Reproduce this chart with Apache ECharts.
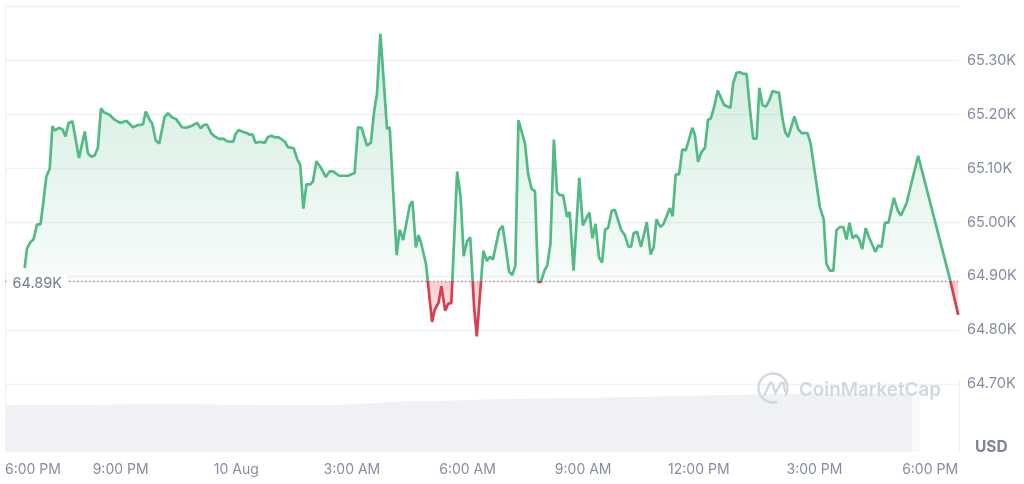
<!DOCTYPE html>
<html>
<head>
<meta charset="utf-8">
<style>html,body{margin:0;padding:0;background:#fff}#c{width:1024px;height:484px}</style>
<script src="https://cdn.jsdelivr.net/npm/echarts@6/dist/echarts.min.js"></script>
</head>
<body>
<div id="c"></div>
<script>
// Hours since 6:00 PM on 9 Aug
const hours = [0.51,0.57,0.66,0.74,0.83,0.92,0.98,1.07,1.16,1.23,1.30,1.40,1.49,1.57,1.65,1.75,1.92,2.07,2.15,2.24,2.33,2.41,2.49,2.56,2.71,2.84,2.99,3.15,3.32,3.45,3.58,3.65,3.75,3.82,3.91,4.00,4.14,4.23,4.34,4.44,4.59,4.70,4.83,4.98,5.08,5.15,5.24,5.35,5.44,5.57,5.66,5.76,5.92,5.98,6.06,6.18,6.28,6.35,6.42,6.50,6.62,6.74,6.82,6.91,7.02,7.11,7.26,7.34,7.49,7.59,7.66,7.74,7.82,7.92,7.99,8.08,8.21,8.32,8.42,8.51,8.67,
8.90,9.07,9.16,9.25,9.39,9.49,9.58,9.65,9.74,9.83,9.91,9.98,10.16,10.24,10.33,10.50,10.57,10.66,10.73,10.80,10.92,11.08,11.15,11.25,11.32,11.42,11.50,11.58,11.73,11.82,11.90,11.99,12.07,12.17,12.24,12.41,12.50,12.58,12.66,12.82,12.91,12.99,13.08,13.16,13.24,13.32,13.49,13.57,13.66,13.75,13.83,13.90,14.00,14.07,14.15,14.24,14.32,14.39,14.48,14.58,14.65,14.75,14.90,14.99,15.16,15.24,15.32,15.41,15.49,15.57,15.65,15.74,15.82,15.99,16.08,16.17,16.24,16.31,16.40,16.50,16.65,16.75,16.83,16.90,17.00,17.08,17.25,17.32,17.40,17.49,
17.57,17.66,17.74,17.83,17.90,17.98,18.07,18.16,18.24,18.31,18.40,18.49,18.66,18.82,18.89,18.98,19.07,19.15,19.24,19.33,19.41,19.50,19.57,19.65,19.74,19.83,19.91,20.00,20.08,20.17,20.24,20.32,20.48,20.58,20.67,20.82,20.90,21.14,21.24,21.31,21.40,21.49,21.57,21.66,21.75,21.83,21.91,21.99,22.08,22.15,22.24,22.33,22.41,22.58,22.66,22.74,22.83,22.92,23.06,23.16,23.24,23.39,23.48,23.69,24.52,24.73];
// Price in USD
const prices = [64915,64951,64963,64968,64996,64996,65028,65084,65099,65178,65170,65175,65172,65159,65184,65187,65119,65168,65128,65121,65124,65138,65211,65204,65199,65190,65184,65188,65176,65180,65181,65205,65190,65183,65152,65146,65195,65202,65194,65191,65176,65175,65178,65184,65174,65180,65181,65165,65159,65154,65155,65150,65149,65163,65171,65167,65165,65162,65163,65147,65149,65147,65158,65160,65157,65157,65149,65139,65137,65115,65106,65025,65070,65070,65076,65113,65099,65084,65094,65094,65086,
65086,65091,65176,65175,65142,65147,65207,65238,65349,65257,65173,65176,64939,64986,64967,65031,65039,64953,64976,64960,64923,64815,64838,64851,64881,64836,64849,64850,65094,65047,64937,64965,64972,64843,64788,64947,64928,64936,64931,64985,64993,64954,64908,64902,64919,65189,65146,65090,65062,65057,64889,64889,64911,64920,64960,65153,65056,65050,65050,65010,65019,64910,65082,64994,65018,64970,64997,64935,64925,64986,64990,65021,65023,64985,64976,64955,64954,64980,64982,64954,65000,64940,64954,65005,64991,64996,65026,65011,65088,65089,
65135,65133,65152,65175,65161,65112,65130,65138,65190,65192,65214,65244,65217,65212,65257,65277,65278,65275,65275,65207,65155,65155,65249,65217,65214,65226,65243,65241,65240,65192,65167,65158,65196,65172,65165,65165,65146,65028,65005,64923,64910,64910,64985,64991,64991,64968,64999,64970,64976,64970,64950,64989,64973,64945,64957,64954,64999,64999,65045,65022,65012,65035,65062,65123,64893,64828];
const baseline = 64890;
// Volume (billions USD, estimated from area height)
const volumeHours = [0,3,4.3,6.5,8.68,10.5,11.3,12.84,15.4,17.5,20.1,22.2,23.53];
const volumes = [23.5,23.75,24,23.5,23.5,25.5,25.5,26.5,27.15,28,29,29.25,29.25];
const tailHours = [23.53,23.68];
const tailVolumes = [29.25,29.25];
const xTickLabels = ['6:00 PM','9:00 PM','10 Aug','3:00 AM','6:00 AM','9:00 AM','12:00 PM','3:00 PM','6:00 PM'];
const yTickFormat = v => (v / 1000).toFixed(2) + 'K';

const zip = (a, b) => a.map((x, i) => [x, b[i]]);
const hi = Math.max(...prices), lo = Math.min(...prices);
const split = (hi - baseline) / (hi - lo);
const font = 'Inter, "Noto Sans", sans-serif';
const edge = '#eef0f3', gridC = '#f1f2f5', mark = '#d2d7e1';

const chart = echarts.init(document.getElementById('c'), null, {renderer: 'canvas'});
chart.setOption({
  animation: false,
  backgroundColor: '#fff',
  grid: [
    {left: 5, right: 65, top: 6.4, bottom: 46.1},
    {left: 5, right: 65, top: 380, bottom: 32}
  ],
  xAxis: [
    {gridIndex: 0, type: 'value', min: 0, max: 24.75, interval: 3,
      axisLine: {show: false}, axisTick: {show: false}, axisLabel: {show: false}, splitLine: {show: false}},
    {gridIndex: 1, type: 'value', min: 0, max: 24.75, interval: 3,
      axisLine: {show: false}, axisTick: {show: false}, splitLine: {show: false},
      axisLabel: {color: '#878da0', fontSize: 14, fontFamily: font, margin: 11, alignMinLabel: 'left', showMaxLabel: false,
        formatter: v => xTickLabels[Math.round(v / 3)] || ''}}
  ],
  yAxis: [
    {gridIndex: 0, type: 'value', position: 'right', min: 64600, max: 65400, interval: 100,
      axisLine: {show: true, lineStyle: {color: edge}}, axisTick: {show: false},
      axisLabel: {color: '#858ca2', fontSize: 14.5, fontFamily: font, margin: 8, showMinLabel: false, showMaxLabel: false, formatter: yTickFormat},
      splitLine: {show: true, showMinLine: false, lineStyle: {color: gridC, width: 1.3}}},
    {gridIndex: 1, type: 'value', position: 'left', min: 0, max: 36,
      axisLine: {show: true, lineStyle: {color: edge}}, axisTick: {show: false}, axisLabel: {show: false}, splitLine: {show: false}},
    {gridIndex: 0, type: 'value', position: 'left', min: 64600, max: 65400,
      axisLine: {show: true, lineStyle: {color: edge}}, axisTick: {show: false}, axisLabel: {show: false}, splitLine: {show: false}},
    {gridIndex: 1, type: 'value', position: 'right', min: 0, max: 36,
      axisLine: {show: true, lineStyle: {color: edge}}, axisTick: {show: false}, axisLabel: {show: false}, splitLine: {show: false}}
  ],
  visualMap: {
    show: false, type: 'piecewise', seriesIndex: 2, dimension: 1,
    pieces: [{gt: baseline, lte: 70000, color: '#52ba85'}, {gt: 60000, lte: baseline, color: '#d8404f'}]
  },
  series: [
    {type: 'line', xAxisIndex: 1, yAxisIndex: 1, data: zip(volumeHours, volumes), symbol: 'none',
      lineStyle: {width: 0}, areaStyle: {color: '#eff1f5', opacity: 1}, z: 3,
      markLine: {silent: true, symbol: 'none', label: {show: false},
        lineStyle: {color: '#f3f4f7', type: 'solid', width: 1}, data: [{xAxis: 23.68}]}},
    {type: 'line', xAxisIndex: 1, yAxisIndex: 1, data: zip(tailHours, tailVolumes), symbol: 'none',
      lineStyle: {width: 0}, areaStyle: {color: '#f8f9fb', opacity: 1}, z: 3},
    {type: 'line', xAxisIndex: 0, yAxisIndex: 0, data: zip(hours, prices), symbol: 'none', smooth: false,
      lineStyle: {width: 2.7}, z: 5,
      areaStyle: {
        origin: baseline, opacity: 1,
        color: new echarts.graphic.LinearGradient(0, 0, 0, 1, [
          {offset: 0, color: 'rgba(82,186,133,0.28)'},
          {offset: split, color: 'rgba(82,186,133,0.04)'},
          {offset: split, color: 'rgba(224,70,85,0.28)'},
          {offset: 1, color: 'rgba(224,70,85,0.02)'}
        ])
      },
      markLine: {
        silent: true, symbol: 'none', animation: false,
        lineStyle: {color: '#959baa', type: [1.4, 2.6], width: 1.3},
        label: {show: true, position: 'start', formatter: '64.89K', color: '#747b90', fontSize: 14.5, fontFamily: font,
          backgroundColor: '#fff', padding: [2, 5], offset: [67, 2]},
        data: [{yAxis: baseline}]
      }}
  ],
  graphic: [
    {type: 'text', z: 50, x: 975, y: 439, style: {text: 'USD', fill: '#7d849a', font: '700 15.5px ' + font}},
    {type: 'text', z: 50, x: 799, y: 381, style: {text: 'CoinMarketCap', fill: mark, font: '600 18.8px ' + font}},
    {type: 'arc', z: 50, silent: true, shape: {cx: 773, cy: 388, r: 14.5, startAngle: 0.55, endAngle: 1.25, clockwise: false},
      style: {fill: null, stroke: mark, lineWidth: 2.4}},
    {type: 'polyline', z: 50, silent: true,
      shape: {points: [[764, 396], [770, 383], [772, 383], [775.5, 393], [781, 383], [783.5, 383], [785, 391], [788, 391.5]]},
      style: {fill: null, stroke: mark, lineWidth: 2.4}}
  ]
});
</script>
</body>
</html>
